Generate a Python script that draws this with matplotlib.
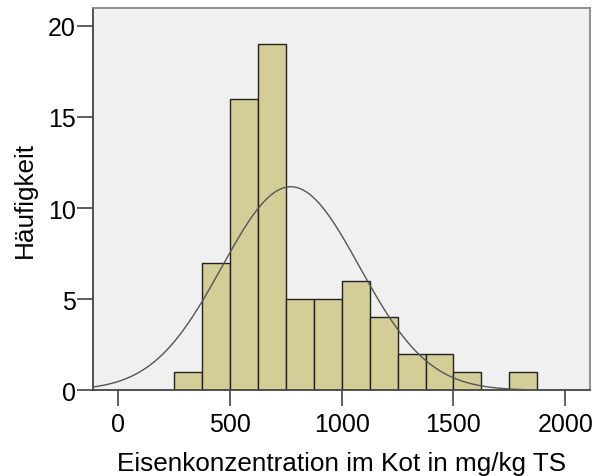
import numpy as np
import matplotlib
matplotlib.use("Agg")
import matplotlib.pyplot as plt

bin_edges = [250, 375, 500, 625, 750, 875, 1000, 1125, 1250, 1375, 1500, 1625, 1750, 1875]
counts = [1, 7, 16, 19, 5, 5, 6, 4, 2, 2, 1, 0, 1]
mean_val = 772
sd_val = 308
n_total = sum(counts)
bin_width = 125

xticks = [0, 500, 1000, 1500, 2000]
yticks = [0, 5, 10, 15, 20]

plt.rcParams['font.family'] = ['Liberation Sans', 'DejaVu Sans']

fig = plt.figure(figsize=(6.01, 4.77), dpi=100)
ax = fig.add_axes([0.1547, 0.1797, 0.9817 - 0.1547, 0.9818 - 0.1797])
ax.set_facecolor('#F0F0F0')

lefts = bin_edges[:-1]
widths = np.diff(bin_edges)
ax.bar(lefts, counts, width=widths, align='edge', color='#D3CE97',
       edgecolor='#222222', linewidth=1.0, zorder=2)

xs = np.linspace(-113, 2111, 500)
ys = n_total * bin_width / (sd_val * np.sqrt(2 * np.pi)) * np.exp(-0.5 * ((xs - mean_val) / sd_val) ** 2)
ax.plot(xs, ys, color='#555555', linewidth=1.0, zorder=3)

ax.set_xlim(-113, 2111)
ax.set_ylim(0, 21)
ax.set_xticks(xticks)
ax.set_yticks(yticks)
ax.tick_params(axis='both', labelsize=18, length=11.5, width=1.2, color='#444444')
ax.tick_params(axis='x', pad=4)
ax.tick_params(axis='y', pad=1)

for s in ['left', 'bottom']:
    ax.spines[s].set_color('#444444')
    ax.spines[s].set_linewidth(1.3)
for s in ['top', 'right']:
    ax.spines[s].set_color('#888888')
    ax.spines[s].set_linewidth(1.3)

ax.set_xlabel('Eisenkonzentration im Kot in mg/kg TS', fontsize=18.8, labelpad=11)
ax.set_ylabel('Häufigkeit', fontsize=18.8, labelpad=8)

fig.savefig('out.png', dpi=100)
